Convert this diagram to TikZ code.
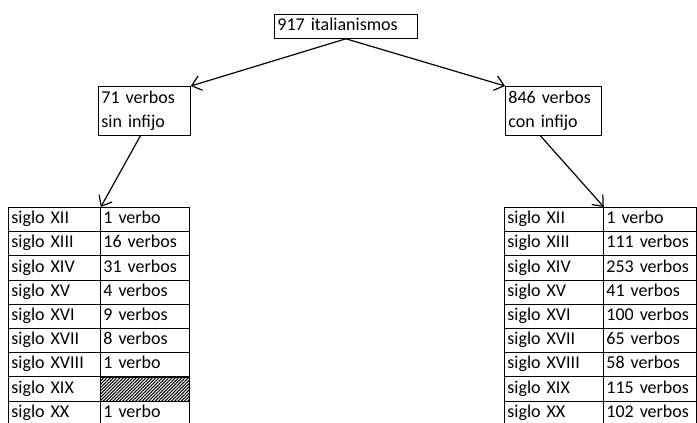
\documentclass[tikz,border=0pt]{standalone}
\usepackage{fontspec}
\setmainfont{Carlito}
\usetikzlibrary{arrows.meta,patterns.meta}

\tikzset{
	box/.style={draw, line width=0.8pt, inner xsep=3pt, inner ysep=0pt,
		align=left, anchor=north west, minimum height=#1},
	cell/.style={draw, line width=0.8pt, text width=#1, inner xsep=3pt,
		inner ysep=0pt, text height=12.5pt, text depth=4pt,
		minimum height=24.2pt, anchor=north west, align=left},
	hatched/.style={pattern={Lines[angle=45,distance=2.3pt,line width=1pt]}},
	arr/.style={-{Straight Barb[length=9pt,width=15pt]}, line width=1.2pt}
}

\begin{document}
\begin{tikzpicture}[x=1pt, y=-1pt, every node/.style={font=\fontsize{18}{24}\selectfont}]
	\useasboundingbox (0,0) rectangle (697,423);
		\node[box=24pt, text width=137pt, text height=12.5pt, text depth=4pt] (total) at (274,14) {917 italianismos};
		\node[box=49pt, text width=86pt] (sin) at (98,86) {71 verbos\\sin infijo};
		\node[box=49pt, text width=90pt] (con) at (505,86) {846 verbos\\con infijo};
	% sin infijo
		\node[cell=86pt] (lc1) at (8,207) {siglo XII};
		\node[cell=83pt] (lv1) at (100,207) {1 verbo};
		\node[cell=86pt] (lc2) at (8,231.2) {siglo XIII};
		\node[cell=83pt] (lv2) at (100,231.2) {16 verbos};
		\node[cell=86pt] (lc3) at (8,255.4) {siglo XIV};
		\node[cell=83pt] (lv3) at (100,255.4) {31 verbos};
		\node[cell=86pt] (lc4) at (8,279.6) {siglo XV};
		\node[cell=83pt] (lv4) at (100,279.6) {4 verbos};
		\node[cell=86pt] (lc5) at (8,303.8) {siglo XVI};
		\node[cell=83pt] (lv5) at (100,303.8) {9 verbos};
		\node[cell=86pt] (lc6) at (8,328) {siglo XVII};
		\node[cell=83pt] (lv6) at (100,328) {8 verbos};
		\node[cell=86pt] (lc7) at (8,352.2) {siglo XVIII};
		\node[cell=83pt] (lv7) at (100,352.2) {1 verbo};
		\node[cell=86pt] (lc8) at (8,376.4) {siglo XIX};
		\node[cell=83pt, hatched] (lv8) at (100,376.4) {};
		\node[cell=86pt] (lc9) at (8,400.6) {siglo XX};
		\node[cell=83pt] (lv9) at (100,400.6) {1 verbo};
	% con infijo
		\node[cell=93pt] (rc1) at (504,207) {siglo XII};
		\node[cell=87pt] (rv1) at (603,207) {1 verbo};
		\node[cell=93pt] (rc2) at (504,231.2) {siglo XIII};
		\node[cell=87pt] (rv2) at (603,231.2) {111 verbos};
		\node[cell=93pt] (rc3) at (504,255.4) {siglo XIV};
		\node[cell=87pt] (rv3) at (603,255.4) {253 verbos};
		\node[cell=93pt] (rc4) at (504,279.6) {siglo XV};
		\node[cell=87pt] (rv4) at (603,279.6) {41 verbos};
		\node[cell=93pt] (rc5) at (504,303.8) {siglo XVI};
		\node[cell=87pt] (rv5) at (603,303.8) {100 verbos};
		\node[cell=93pt] (rc6) at (504,328) {siglo XVII};
		\node[cell=87pt] (rv6) at (603,328) {65 verbos};
		\node[cell=93pt] (rc7) at (504,352.2) {siglo XVIII};
		\node[cell=87pt] (rv7) at (603,352.2) {58 verbos};
		\node[cell=93pt] (rc8) at (504,376.4) {siglo XIX};
		\node[cell=87pt] (rv8) at (603,376.4) {115 verbos};
		\node[cell=93pt] (rc9) at (504,400.6) {siglo XX};
		\node[cell=87pt] (rv9) at (603,400.6) {102 verbos};
	% arrows
		\draw[arr] (total.south) -- (sin.north east);
		\draw[arr] (total.south) -- (con.north west);
		\draw[arr] ([xshift=-4pt]sin.south) -- (lc1.north east);
		\draw[arr] ([xshift=-13pt]con.south) -- (rc1.north east);
\end{tikzpicture}
\end{document}
